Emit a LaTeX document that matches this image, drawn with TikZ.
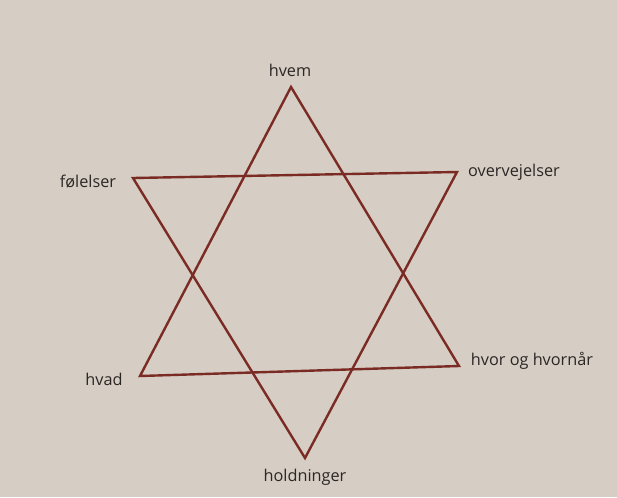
\documentclass[tikz,border=0pt]{standalone}
\usepackage{fontspec}
\setmainfont{Open Sans}
\usepackage{xcolor}
\definecolor{paper}{HTML}{D6CDC4}
\definecolor{starline}{HTML}{7A2B23}
\definecolor{ink}{HTML}{2B2725}

\begin{document}
\begin{tikzpicture}[
    x=0.75pt,
    y=-0.75pt,
    font=\fontsize{12.2}{14}\selectfont,
    edge/.style={
        draw=starline,
        line width=1.8pt,
        line join=miter
    },
    lab/.style={
        text=ink,
        inner sep=1pt
    }
]

% Paper background fixes the frame
\fill[paper] (0,0) rectangle (617,497);

% Corners of the two triangles
\coordinate (top)   at (291,87);
\coordinate (botl)  at (140,376);
\coordinate (botr)  at (459,366);
\coordinate (upl)   at (133,178);
\coordinate (upr)   at (457,172);
\coordinate (bot)   at (305,458);

% Upward triangle
\draw[edge] (top) -- (botl) -- (botr) -- cycle;

% Downward triangle
\draw[edge] (upl) -- (upr) -- (bot) -- cycle;

% Labels at the six points
\node[lab] (hvem)   at (290,70)  {hvem};
\node[lab] (fol)    at (88,182)  {følelser};
\node[lab] (overv)  at (514,172) {overvejelser};
\node[lab] (hvad)   at (104,379) {hvad};
\node[lab] (hvor)   at (532,361) {hvor og hvornår};
\node[lab] (hold)   at (305,477) {holdninger};

\end{tikzpicture}
\end{document}
